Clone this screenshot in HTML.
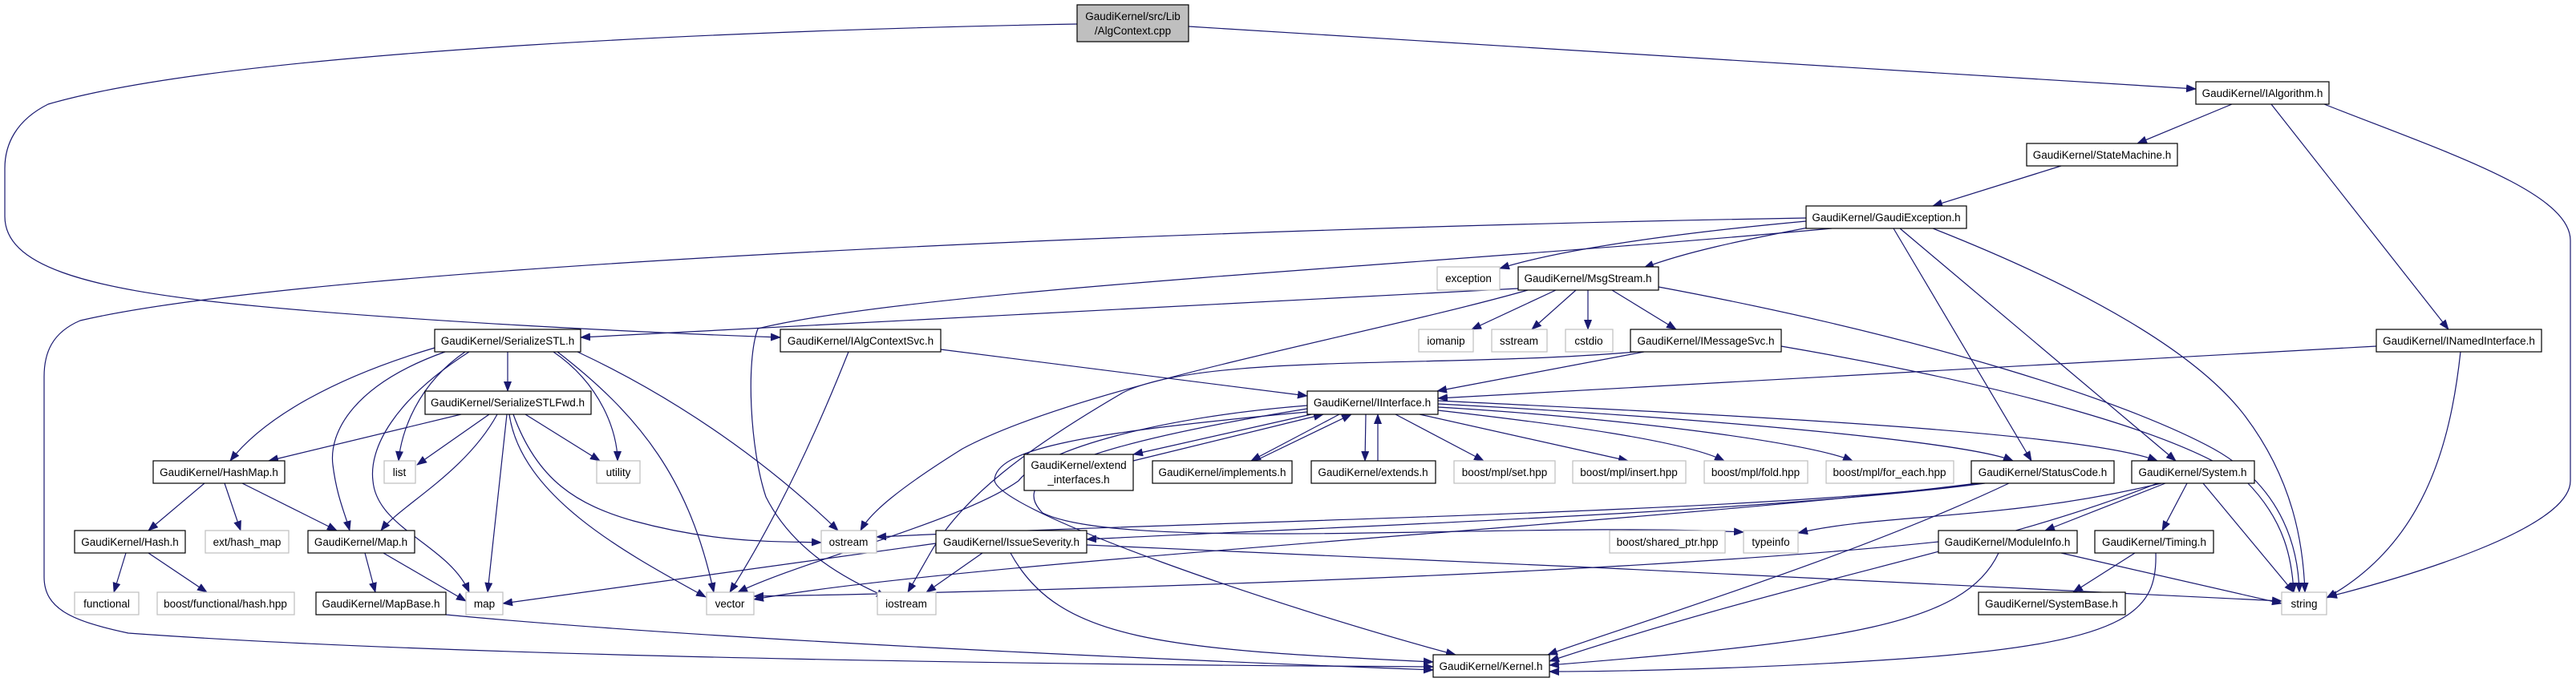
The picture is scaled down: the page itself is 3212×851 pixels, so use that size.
<!DOCTYPE html>
<html><head><meta charset="utf-8"><style>
html,body{margin:0;padding:0;background:#fff;width:3212px;height:851px;overflow:hidden}
svg{display:block}
text{font-family:"Liberation Sans",sans-serif;font-size:13.5px;fill:#000}
.n{fill:#fff;stroke:#000;stroke-width:1.2}
.g{fill:#fff;stroke:#bfbfbf;stroke-width:1.2}
.e path,.e line{fill:none;stroke:#191970;stroke-width:1.2}
</style></head><body>
<svg width="3212" height="851" viewBox="0 0 3212 851" xmlns="http://www.w3.org/2000/svg">
<defs><marker id="a" markerWidth="13" markerHeight="10" refX="12" refY="5" orient="auto" markerUnits="userSpaceOnUse"><path d="M0,0 L13,5 L0,10z" fill="#191970"/></marker></defs>
<g class="e" marker-end="url(#a)">
<!-- AlgContext -->
<path d="M1482,33 L2738,111" marker-end="url(#a)"/>
<path d="M1343,30 C1000,36 300,60 60,130 C20,150 6,180 6,210 L6,270 C6,330 100,360 300,380 C500,400 800,415 973,421" marker-end="url(#a)"/>
<!-- IAlgorithm -->
<path d="M2783,130 L2665,179" marker-end="url(#a)"/>
<path d="M2832,130 L3053,411" marker-end="url(#a)"/>
<path d="M2898,130 C3050,190 3205,240 3205,300 L3205,600 C3205,660 3000,720 2902,745" marker-end="url(#a)"/>
<path d="M2570,207 L2410,257" marker-end="url(#a)"/>
<!-- GaudiException -->
<path d="M2252,272 C1500,285 400,330 100,400 C65,415 55,440 55,470 L55,720 C55,760 90,775 160,790 C600,822 1400,830 1787,832" marker-end="url(#a)"/>
<path d="M2252,276 C2100,290 1950,310 1870,335" marker-end="url(#a)"/>
<path d="M2260,283 C2170,300 2100,315 2050,334" marker-end="url(#a)"/>
<path d="M2284,285 C1800,330 1150,360 945,410 C930,450 935,560 955,620 C990,690 1060,725 1105,745" marker-end="url(#a)"/>
<path d="M2361,285 L2533,575" marker-end="url(#a)"/>
<path d="M2369,285 L2713,575" marker-end="url(#a)"/>
<path d="M2410,285 C2600,360 2740,440 2800,520 C2860,600 2872,680 2874,739" marker-end="url(#a)"/>
<!-- MsgStream -->
<path d="M1893,360 L724,421" marker-end="url(#a)"/>
<path d="M1905,362 C1700,420 1350,480 1200,560 C1120,610 1085,640 1073,662" marker-end="url(#a)"/>
<path d="M1940,362 L1835,411" marker-end="url(#a)"/>
<path d="M1965,362 L1910,411" marker-end="url(#a)"/>
<path d="M1980,362 L1980,411" marker-end="url(#a)"/>
<path d="M2010,362 L2090,411" marker-end="url(#a)"/>
<path d="M2068,358 C2400,420 2650,500 2760,560 C2850,610 2866,690 2867,739" marker-end="url(#a)"/>
<!-- IMessageSvc -->
<path d="M2050,439 L1792,488" marker-end="url(#a)"/>
<path d="M2040,439 C1800,460 1500,440 1400,490 C1280,560 1200,620 1160,690 L1132,739" marker-end="url(#a)"/>
<path d="M2221,432 C2500,480 2720,540 2800,600 C2850,650 2858,700 2860,739" marker-end="url(#a)"/>
<!-- INamedInterface -->
<path d="M2963,432 L1793,497" marker-end="url(#a)"/>
<path d="M3068,439 C3055,560 3020,680 2901,746" marker-end="url(#a)"/>
<!-- IAlgContextSvc -->
<path d="M1173,436 L1630,494" marker-end="url(#a)"/>
<path d="M1058,439 C1010,560 960,660 910,739" marker-end="url(#a)"/>
<!-- SerializeSTL -->
<path d="M633,439 L633,488" marker-end="url(#a)"/>
<path d="M542,434 C420,470 330,520 287,575" marker-end="url(#a)"/>
<path d="M555,439 C440,480 410,540 415,580 C420,620 430,640 436,662" marker-end="url(#a)"/>
<path d="M580,439 C520,480 500,540 497,575" marker-end="url(#a)"/>
<path d="M585,439 C490,500 460,560 465,600 C470,660 560,680 585,739" marker-end="url(#a)"/>
<path d="M690,439 C750,480 770,540 770,575" marker-end="url(#a)"/>
<path d="M695,439 C800,520 860,600 890,739" marker-end="url(#a)"/>
<path d="M720,439 C850,500 960,580 1045,662" marker-end="url(#a)"/>
<!-- SerializeSTLFwd -->
<path d="M575,517 L335,575" marker-end="url(#a)"/>
<path d="M610,517 L520,580" marker-end="url(#a)"/>
<path d="M620,517 C580,590 500,630 475,662" marker-end="url(#a)"/>
<path d="M632,517 L608,739" marker-end="url(#a)"/>
<path d="M635,517 C650,620 780,690 880,745" marker-end="url(#a)"/>
<path d="M640,517 C670,600 720,630 790,650 C900,680 980,675 1024,677" marker-end="url(#a)"/>
<path d="M655,517 L748,575" marker-end="url(#a)"/>
<!-- HashMap, Hash, Map -->
<path d="M255,603 L185,662" marker-end="url(#a)"/>
<path d="M280,603 L300,662" marker-end="url(#a)"/>
<path d="M302,603 L420,662" marker-end="url(#a)"/>
<path d="M157,690 L142,739" marker-end="url(#a)"/>
<path d="M185,690 L258,739" marker-end="url(#a)"/>
<path d="M455,690 L468,739" marker-end="url(#a)"/>
<path d="M478,690 L581,750" marker-end="url(#a)"/>
<path d="M556,767 C900,800 1500,825 1787,836" marker-end="url(#a)"/>
<!-- IInterface -->
<path d="M1630,506 C1450,520 1300,560 1270,600 C1200,650 1000,700 920,739" marker-end="url(#a)"/>
<path d="M1630,514 C1350,540 1240,560 1240,600 C1250,640 1600,760 1815,817" marker-end="url(#a)"/>
<path d="M1630,510 C1320,560 1260,600 1300,640 C1400,690 1900,650 2174,664" marker-end="url(#a)"/>
<path d="M1635,517 L1413,567" marker-end="url(#a)"/>
<path d="M1413,575 L1650,517" marker-end="url(#a)"/>
<path d="M1670,517 L1560,575" marker-end="url(#a)"/>
<path d="M1565,575 L1685,517" marker-end="url(#a)"/>
<path d="M1703,517 L1702,575" marker-end="url(#a)"/>
<path d="M1718,575 L1718,517" marker-end="url(#a)"/>
<path d="M1740,517 L1850,575" marker-end="url(#a)"/>
<path d="M1770,517 L2030,575" marker-end="url(#a)"/>
<path d="M1793,512 C1950,530 2100,550 2150,575" marker-end="url(#a)"/>
<path d="M1793,508 C2000,520 2250,550 2310,575" marker-end="url(#a)"/>
<path d="M1793,504 C2100,520 2450,550 2510,575" marker-end="url(#a)"/>
<path d="M1793,500 C2200,520 2600,540 2690,575" marker-end="url(#a)"/>
<!-- StatusCode -->
<path d="M2470,603 C2200,640 1500,650 1093,670" marker-end="url(#a)"/>
<path d="M2475,603 C2200,640 1600,660 1355,673" marker-end="url(#a)"/>
<path d="M2505,603 C2300,700 2000,790 1930,817" marker-end="url(#a)"/>
<path d="M2465,603 C2100,650 1200,700 940,748" marker-end="url(#a)"/>
<!-- System -->
<path d="M2695,603 C2500,650 2350,640 2242,665" marker-end="url(#a)"/>
<path d="M2700,603 L2550,662" marker-end="url(#a)"/>
<path d="M2727,603 L2696,662" marker-end="url(#a)"/>
<path d="M2747,603 L2860,739" marker-end="url(#a)"/>
<path d="M2690,603 C2500,680 2250,720 1932,825" marker-end="url(#a)"/>
<!-- ModuleInfo, Timing -->
<path d="M2570,690 L2845,753" marker-end="url(#a)"/>
<path d="M2492,690 C2450,780 2300,800 1932,830" marker-end="url(#a)"/>
<path d="M2417,676 C2000,720 1200,740 940,744" marker-end="url(#a)"/>
<path d="M2662,690 L2585,739" marker-end="url(#a)"/>
<path d="M2688,690 C2690,760 2660,800 2400,820 C2200,835 2000,838 1932,838" marker-end="url(#a)"/>
<!-- IssueSeverity -->
<path d="M1167,678 L627,753" marker-end="url(#a)"/>
<path d="M1225,690 L1155,739" marker-end="url(#a)"/>
<path d="M1260,690 C1320,800 1450,810 1787,826" marker-end="url(#a)"/>
<path d="M1355,680 C1800,700 2500,730 2845,750" marker-end="url(#a)"/>
</g>
<!-- nodes -->
<rect x="1343" y="6" width="139" height="46" fill="#bfbfbf" stroke="#000" stroke-width="1.2"/>
<text x="1412.5" y="25" text-anchor="middle">GaudiKernel/src/Lib</text>
<text x="1412.5" y="43" text-anchor="middle">/AlgContext.cpp</text>
<g text-anchor="middle">
<rect class="n" x="2738" y="102" width="166" height="28"/><text x="2821" y="121">GaudiKernel/IAlgorithm.h</text>
<rect class="n" x="2527" y="179" width="188" height="28"/><text x="2621" y="198">GaudiKernel/StateMachine.h</text>
<rect class="n" x="2252" y="257" width="200" height="28"/><text x="2352" y="276">GaudiKernel/GaudiException.h</text>
<rect class="g" x="1792" y="333" width="78" height="29"/><text x="1831" y="352">exception</text>
<rect class="n" x="1893" y="333" width="175" height="29"/><text x="1980" y="352">GaudiKernel/MsgStream.h</text>
<rect class="n" x="542" y="411" width="182" height="28"/><text x="633" y="430">GaudiKernel/SerializeSTL.h</text>
<rect class="n" x="973" y="411" width="200" height="28"/><text x="1073" y="430">GaudiKernel/IAlgContextSvc.h</text>
<rect class="g" x="1769" y="411" width="68" height="28"/><text x="1803" y="430">iomanip</text>
<rect class="g" x="1860" y="411" width="69" height="28"/><text x="1894" y="430">sstream</text>
<rect class="g" x="1952" y="411" width="59" height="28"/><text x="1981" y="430">cstdio</text>
<rect class="n" x="2033" y="411" width="188" height="28"/><text x="2127" y="430">GaudiKernel/IMessageSvc.h</text>
<rect class="n" x="2963" y="411" width="206" height="28"/><text x="3066" y="430">GaudiKernel/INamedInterface.h</text>
<rect class="n" x="1630" y="488" width="163" height="29"/><text x="1711" y="507">GaudiKernel/IInterface.h</text>
<rect class="n" x="530" y="488" width="207" height="29"/><text x="633" y="507">GaudiKernel/SerializeSTLFwd.h</text>
<rect class="n" x="191" y="575" width="164" height="28"/><text x="273" y="594">GaudiKernel/HashMap.h</text>
<rect class="g" x="479" y="575" width="39" height="28"/><text x="498" y="594">list</text>
<rect class="g" x="744" y="575" width="54" height="28"/><text x="771" y="594">utility</text>
<rect class="n" x="1277" y="567" width="136" height="45"/><text x="1345" y="585">GaudiKernel/extend</text><text x="1345" y="603">_interfaces.h</text>
<rect class="n" x="1437" y="575" width="174" height="28"/><text x="1524" y="594">GaudiKernel/implements.h</text>
<rect class="n" x="1635" y="575" width="155" height="28"/><text x="1712" y="594">GaudiKernel/extends.h</text>
<rect class="g" x="1813" y="575" width="126" height="28"/><text x="1876" y="594">boost/mpl/set.hpp</text>
<rect class="g" x="1961" y="575" width="141" height="28"/><text x="2031" y="594">boost/mpl/insert.hpp</text>
<rect class="g" x="2125" y="575" width="129" height="28"/><text x="2189" y="594">boost/mpl/fold.hpp</text>
<rect class="g" x="2277" y="575" width="159" height="28"/><text x="2356" y="594">boost/mpl/for_each.hpp</text>
<rect class="n" x="2458" y="575" width="178" height="28"/><text x="2547" y="594">GaudiKernel/StatusCode.h</text>
<rect class="n" x="2658" y="575" width="153" height="28"/><text x="2734" y="594">GaudiKernel/System.h</text>
<rect class="n" x="93" y="662" width="138" height="28"/><text x="162" y="681">GaudiKernel/Hash.h</text>
<rect class="g" x="256" y="662" width="104" height="28"/><text x="308" y="681">ext/hash_map</text>
<rect class="n" x="384" y="662" width="133" height="28"/><text x="450" y="681">GaudiKernel/Map.h</text>
<rect class="g" x="1024" y="662" width="69" height="28"/><text x="1058" y="681">ostream</text>
<rect class="n" x="1167" y="662" width="188" height="28"/><text x="1261" y="681">GaudiKernel/IssueSeverity.h</text>
<rect class="g" x="2007" y="662" width="144" height="28"/><text x="2079" y="681">boost/shared_ptr.hpp</text>
<rect class="g" x="2174" y="662" width="68" height="28"/><text x="2208" y="681">typeinfo</text>
<rect class="n" x="2417" y="662" width="173" height="28"/><text x="2503" y="681">GaudiKernel/ModuleInfo.h</text>
<rect class="n" x="2612" y="662" width="148" height="28"/><text x="2686" y="681">GaudiKernel/Timing.h</text>
<rect class="g" x="93" y="739" width="80" height="28"/><text x="133" y="758">functional</text>
<rect class="g" x="196" y="739" width="171" height="28"/><text x="281" y="758">boost/functional/hash.hpp</text>
<rect class="n" x="394" y="739" width="162" height="28"/><text x="475" y="758">GaudiKernel/MapBase.h</text>
<rect class="g" x="581" y="739" width="46" height="28"/><text x="604" y="758">map</text>
<rect class="g" x="881" y="739" width="59" height="28"/><text x="910" y="758">vector</text>
<rect class="g" x="1094" y="739" width="73" height="28"/><text x="1130" y="758">iostream</text>
<rect class="n" x="2467" y="739" width="183" height="28"/><text x="2558" y="758">GaudiKernel/SystemBase.h</text>
<rect class="g" x="2845" y="739" width="56" height="28"/><text x="2873" y="758">string</text>
<rect class="n" x="1787" y="817" width="145" height="28"/><text x="1859" y="836">GaudiKernel/Kernel.h</text>
</g>
</svg>
</body></html>
